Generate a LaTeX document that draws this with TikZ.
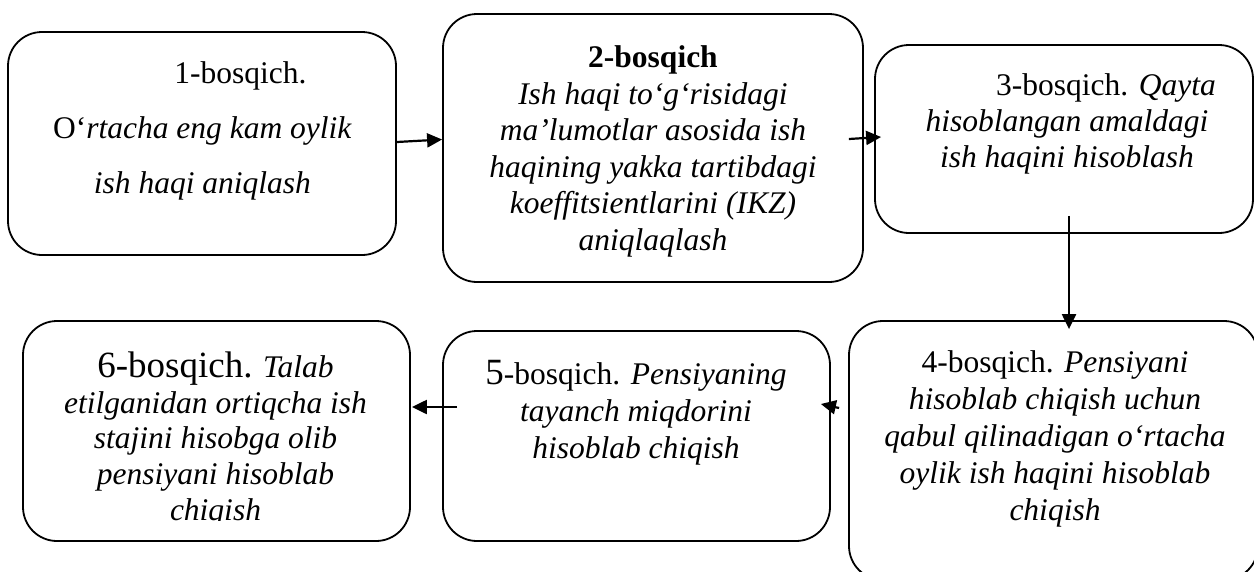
\documentclass[tikz,border=0pt]{standalone}
\usepackage{fontspec}
\setmainfont{Liberation Serif}
\usetikzlibrary{arrows.meta,calc}
\tikzset{
  stage/.style={draw, line width=1.8pt, rounded corners=34pt, inner sep=0pt},
  stagetext/.style={align=center, inner sep=0pt},
  flow/.style={line width=2.2pt, -{Triangle[length=15pt,width=14pt]}},
}
\newcommand\bigdigit[1]{{\fontsize{37}{36}\selectfont #1}}
\begin{document}
\begin{tikzpicture}[x=1pt,y=-1pt]
\useasboundingbox (0,0) rectangle (1254,571);
\clip (0,0) rectangle (1254,571);

% stage frames
\node[stage, minimum width=388pt, minimum height=223pt] (b1) at (202,143.5) {};
\node[stage, minimum width=420pt, minimum height=268pt] (b2) at (653,148) {};
\node[stage, minimum width=378pt, minimum height=188pt] (b3) at (1064,139) {};
\node[stage, minimum width=409pt, minimum height=259pt] (b4) at (1053.5,450.5) {};
\node[stage, minimum width=387pt, minimum height=210pt] (b5) at (636.5,436) {};
\node[stage, minimum width=387pt, minimum height=220pt] (b6) at (216.5,431) {};

% stage texts
\node[stagetext, font=\fontsize{31.5}{55}\selectfont] (t1) at (202.5,131)
  {\hspace*{76pt}1-bosqich.\\ O‘\textit{rtacha eng kam oylik}\\ \textit{ish haqi aniqlash}};
\node[stagetext, font=\fontsize{31.5}{36.6}\selectfont] (t2) at (653,151.5)
  {\textbf{2-bosqich}\\ \textit{Ish haqi to‘g‘risidagi}\\ \textit{ma’lumotlar asosida ish}\\
   \textit{haqining yakka tartibdagi}\\ \textit{koeffitsientlarini (IKZ)}\\ \textit{aniqlaqlash}};
\node[stagetext, font=\fontsize{31.5}{36}\selectfont] (t3) at (1067,124)
  {\hspace*{78pt}3-bosqich. \textit{Qayta}\\ \textit{hisoblangan amaldagi}\\ \textit{ish haqini hisoblash}};
\node[stagetext, font=\fontsize{31.5}{37}\selectfont] (t4) at (1055,439)
  {4-bosqich. \textit{Pensiyani}\\ \textit{hisoblab chiqish uchun}\\ \textit{qabul qilinadigan o‘rtacha}\\
   \textit{oylik ish haqini hisoblab}\\ \textit{chiqish}};
\node[stagetext, font=\fontsize{31.5}{37}\selectfont] (t5) at (636,413)
  {\bigdigit{5}-bosqich. \textit{Pensiyaning}\\ \textit{tayanch miqdorini}\\ \textit{hisoblab chiqish}};
\begin{scope}
  \clip (b6.north west) rectangle ($(b6.east)+(0,89)$);
  \node[stagetext, font=\fontsize{31.5}{35.75}\selectfont] (t6) at (215.5,439.5)
    {{\fontsize{37}{35.75}\selectfont 6-bosqich.} \textit{Talab}\\ \textit{etilganidan ortiqcha ish}\\
     \textit{stajini hisobga olib}\\ \textit{pensiyani hisoblab}\\ \textit{chiqish}};
\end{scope}

% connectors
\draw[flow] ($(b1.east)+(0,-1.5)$) -- ($(b2.west)+(0,-8.5)$);
\draw[flow] ($(b2.east)+(-15,-9)$) -- ($(b3.west)+(7,-2)$);
\draw[flow] ($(b3.south)+(5,-18)$) -- ($(b4.north)+(15.5,9)$);
\draw[flow] ($(b4.west)+(-9,-42.5)$) -- ($(b5.east)+(-10,-32)$);
\draw[flow] ($(b5.west)+(15,-29)$) -- ($(b6.east)+(1,-24)$);
\end{tikzpicture}
\end{document}
